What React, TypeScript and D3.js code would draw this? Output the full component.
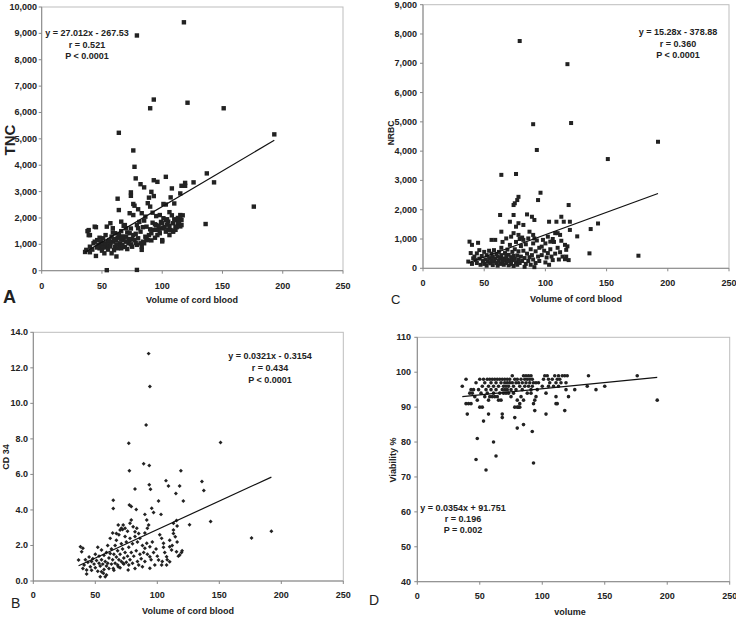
import React from "react";
import * as d3 from "d3";

type Pt = [number, number];

const NARROW = "'Liberation Sans Narrow', 'Arial Narrow', 'Liberation Sans', Arial, sans-serif";
const SANS = "'Liberation Sans', Arial, sans-serif";

// ---------- data (volume, value) ----------
const tncData: Pt[] = [
  [118,9420],[79,8920],[93,6490],[90,6160],[121,6370],[151,6160],[64,5230],[193,5170],[76,4560],[77,3940],[78,3500],[176,2430],[136,1770],[137,3690],[143,3350],[126,3350],[119,3330],[119,3220],[103,3560],[93,3430],[96,3370],[54,20],[79,30],[63,2730],[64,2300],[74,2970],[74,2840],[82,3280],[85,3160],[91,2990],[93,2830],[89,2770],[108,3120],[115,2930],[116,3220],[107,2780],[110,2550],[103,2510],[106,2220],[115,2110],[117,2100],[116,1920],[116,1730],[115,1680],[100,1110],[98,1600],[101,1620],[107,1540],[109,1500],[103,1920],[105,1860],[92,1820],[94,1760],[85,1040],[83,910],[87,1170],[45,1650],[38,1500],[39,1350],[36,710],[40,700],[45,560],
  [77,2465],[76,2530],[80,2330],[88,2560],[90,2430],[101,2530],[73,2180],[76,2110],[83,2180],[86,2050],[92,2200],[95,2070],[98,2110],[101,1990],[104,1950],[109,1800],[112,1920],[115,1950],[113,1800],[57,1800],[54,1670],[59,1610],[66,1860],[69,1730],[70,1610],[79,1730],[80,1610],[82,1480],[87,1670],[90,1570],[91,1420],[95,1730],[97,1540],[98,1420],[101,1610],[103,1480],[105,1540],[106,1350],[109,1480],[111,1670],[100,1160],[39,1540],[40,1350],[44,1670],[37,790],[40,910],[43,1040],[46,1160],[47,980],[48,850],[51,1230],[52,1040],[54,890],[55,1100],[58,1290],[59,1100],[61,910],[62,1160],[64,1350],[65,1040],[66,850],[68,1160],[70,1290],[72,1040],[73,1160],[75,910],[76,1350],[77,1160],[79,980],[80,1230],[82,1040],[83,790],[84,1100],[86,1290],[88,1160],[58,660],[52,660],[62,540],[50,950],[53,1000],[56,950],[57,1050],[60,1200],[61,1420],[63,1250],[66,1500],[67,1300],[68,1700],[71,1450],[72,1200],[74,1600],[78,1400],[81,1850],[84,1650],[85,1900],[89,1350],[93,1550],[94,1250],[96,1350],[99,1850],[102,1650],[104,1750],[108,2100],[110,1950],[112,1650],[114,1850],[49,1100],[51,880],[55,800],[57,920],[60,780],[63,850],[65,960],[69,900],[71,820],[74,1000],[78,1050],[42,800],[44,1100],[46,880],[48,1250],[50,760],[53,1350],[56,1150],[59,1450],[62,1000],[66,1200],[70,1100],[75,1200],[67,980],[73,1420],[87,1250],[91,1150],[95,1550],[97,1700],[100,1800],[113,2000],[111,1550],[106,1700]
];

const nrbcData: Pt[] = [
  [79,7760],[118,6970],[90,4920],[121,4960],[93,4040],[192,4320],[151,3730],[64,3190],[76,3220],[96,2580],[78,2440],[77,2330],[75,2220],[74,2160],[94,2330],[119,2160],[63,1820],[74,1820],[85,1840],[89,1760],[91,1650],[71,1590],[78,1540],[82,1480],[103,1590],[109,1590],[113,1760],[115,1590],[120,1590],[126,1090],[137,1340],[143,1530],[136,510],[176,430],[64,1250],[74,1200],[76,1420],[87,1250],[90,1140],[91,1020],[102,1080],[104,910],[108,1200],[112,1140],[113,940],[98,970],[97,740],[120,1310],[116,800],[117,630],[117,400],[116,310],[38,910],[40,800],[45,870],[37,230],[41,340],[44,510],[46,620],[56,970],[59,970],[68,1020],[72,1080],[78,1140],[82,970],[83,50],[91,40],[106,280],[101,370],
  [39,520],[40,150],[42,400],[43,280],[44,180],[46,330],[47,120],[48,420],[49,250],[50,560],[50,150],[51,300],[52,450],[52,90],[53,220],[54,600],[54,350],[55,170],[56,280],[56,500],[57,110],[57,390],[58,620],[58,240],[59,330],[60,180],[60,480],[61,90],[61,400],[62,260],[62,560],[63,150],[63,350],[64,700],[64,450],[65,220],[65,900],[66,330],[66,120],[67,520],[67,280],[68,400],[68,180],[69,640],[69,300],[70,100],[70,460],[71,250],[71,800],[72,380],[72,150],[73,560],[73,280],[74,420],[74,80],[75,650],[75,320],[76,200],[76,900],[77,440],[77,120],[78,580],[78,300],[79,1000],[79,180],[80,760],[80,400],[81,250],[81,1050],[82,600],[83,350],[84,150],[84,820],[85,500],[86,250],[86,1020],[87,380],[88,120],[88,650],[89,450],[90,300],[90,850],[92,580],[92,180],[93,950],[94,400],[95,250],[95,700],[97,450],[99,600],[100,200],[100,850],[102,520],[103,120],[104,650],[105,400],[107,900],[108,500],[110,700],[111,300],[112,550],[114,400],[118,750],[119,280],[110,1200],[106,1000]
];

const cd34Data: Pt[] = [
  [93,12.8],[94,10.95],[91,8.78],[77,7.75],[151,7.8],[89,6.6],[93.5,6.5],[77.5,6.2],[119,6.2],[107,5.65],[136,5.6],[137.5,5.1],[109,5.35],[93.5,5.42],[94.5,5.16],[118,5.35],[115,4.92],[82,5.18],[101,4.5],[121,4.5],[64.5,4.55],[64.5,4.08],[77.5,4.28],[79,4.2],[83,4.02],[95.5,4.09],[97,3.85],[90,3.75],[103,3.75],[143,3.35],[126,3.17],[176,2.42],[192,2.8],[94,1.37],[94,0.72],[115.5,3.4],[113,2.87],
  [79,3.43],[80.5,3.06],[78,3.25],[72.5,3.15],[71,2.97],[74,2.97],[68.5,3.15],[70,2.87],[67,2.68],[83.5,2.97],[85,2.68],[82,2.77],[91.5,3.43],[93,3.15],[92,2.97],[113,3.25],[116,3.1],[113,2.68],[114.5,2.49],[110,2.3],[103.5,2.4],[105,2.12],[91.5,2.12],[90,1.84],[94,1.93],[110,1.93],[111.5,1.74],[115.5,1.65],[118,1.46],[119.5,1.6],[107.5,1.37],[101,1.18],[103.5,0.9],[110,1.09],[107.5,0.9],[82,0.71],[76.5,0.62],[72.5,1.0],[68.5,0.8],[64.5,0.71],[55,0.52],[56.5,0.43],[54,0.24],[58,0.24],[59,0.34],[40,0.71],[43,0.62],[36.5,1.18],[38,1.93],[39,1.65],[40,1.84],
  [41,0.9],[42,1.2],[43,0.4],[44,1.05],[45,1.35],[46,0.8],[47,1.1],[47,0.6],[48,1.25],[49,0.95],[50,1.5],[50,0.75],[51,1.15],[52,1.9],[52,0.55],[53,1.0],[53,1.4],[54,0.85],[55,1.2],[55,1.75],[56,0.95],[57,1.45],[57,0.65],[58,1.1],[59,1.6],[59,0.85],[60,2.0],[60,1.0],[61,1.3],[61,0.7],[62,1.55],[62,2.4],[63,0.95],[63,1.8],[64,1.2],[64,2.7],[65,1.5],[65,0.6],[66,2.0],[66,1.0],[67,1.35],[67,2.3],[68,0.9],[68,1.7],[69,2.6],[69,1.2],[70,1.5],[70,0.75],[71,2.1],[71,1.1],[72,1.8],[72,2.9],[73,1.3],[73,0.95],[74,2.5],[74,1.6],[75,1.05],[75,2.2],[76,1.4],[76,2.8],[77,0.9],[77,1.9],[78,2.4],[78,1.2],[79,1.6],[80,2.1],[80,1.0],[81,1.4],[82,2.5],[83,1.7],[84,1.1],[84,2.2],[85,0.9],[86,1.5],[86,2.4],[87,1.25],[88,2.0],[88,0.8],[89,1.6],[90,2.7],[90,1.1],[92,1.5],[95,1.2],[96,2.2],[97,1.6],[98,0.9],[99,1.8],[100,1.4],[102,2.6],[104,1.1],[105,1.9],[106,1.6],[108,1.2],[112,2.0],[116,2.2],[117,1.4],[120,1.7]
];

const viabilityData: Pt[] = [
  [192,92],[176,99],[93,74],[55,72],[47,75],[63,76],[61,80],[48,81],[92,83],[80,84],[85,85],[78,87],[53,86],[68,87],[68,88],[57,88],[40,88],[103,88],[118,89],[94,89],[143,95],[150,96],[136,96],[137,99],[126,95],[119,95],[121,93],[111,93],[111,91],[112,91],[103,94],[36,96],[39,98],[39,91],[41,91],[43,91],[48,92],[45,95],
  [42,94],[43,95],[44,94],[46,93],[47,97],[49,95],[50,98],[50,90],[51,94],[52,96],[52,90],[53,98],[54,97],[54,93],[55,95],[56,98],[56,94],[57,96],[57,92],[58,98],[58,93],[59,97],[59,95],[60,98],[60,93],[61,96],[61,94],[62,98],[62,93],[63,97],[63,95],[64,98],[64,93],[65,96],[65,92],[66,98],[66,94],[67,97],[67,92],[68,98],[68,95],[69,96],[69,94],[70,98],[70,97],[70,95],[71,96],[71,94],[72,98],[72,97],[72,95],[73,96],[73,94],[74,98],[74,97],[75,95],[75,93],[76,99],[76,97],[77,96],[77,94],[78,98],[78,90],[79,97],[79,95],[80,98],[80,92],[81,97],[81,90],[82,96],[82,91],[83,98],[83,93],[84,97],[84,95],[85,99],[85,92],[86,98],[86,96],[87,99],[87,97],[88,98],[88,94],[89,99],[89,96],[90,98],[90,97],[91,99],[91,95],[92,98],[92,96],[93,97],[94,92],[95,97],[95,93],[96,95],[97,97],[100,96],[101,98],[102,99],[104,99],[105,98],[106,97],[108,98],[109,96],[110,99],[111,97],[112,98],[113,96],[114,98],[115,97],[116,99],[118,99],[119,97],[120,99],[80,90],[82,90],[91,94],[93,91],[105,96],[113,99]
];

const xTickValues = [0, 50, 100, 150, 200, 250];
const tncTicks = [0, 1000, 2000, 3000, 4000, 5000, 6000, 7000, 8000, 9000, 10000];
const nrbcTicks = [0, 1000, 2000, 3000, 4000, 5000, 6000, 7000, 8000, 9000];
const cd34Ticks = [0, 2, 4, 6, 8, 10, 12, 14];
const viabilityTicks = [40, 50, 60, 70, 80, 90, 100, 110];

const tncEq = ["y = 27.012x - 267.53", "r = 0.521", "P < 0.0001"];
const nrbcEq = ["y = 15.28x - 378.88", "r = 0.360", "P < 0.0001"];
const cd34Eq = ["y = 0.0321x - 0.3154", "r = 0.434", "P < 0.0001"];
const viabilityEq = ["y = 0.0354x + 91.751", "r = 0.196", "P = 0.002"];

const tncFit = [27.012, -267.53];
const nrbcFit = [15.28, -378.88];
const cd34Fit = [0.0321, -0.3154];
const viabilityFit = [0.0354, 91.751];

// ---------- layout ----------
type Cfg = {
  data: Pt[];
  fit: number[];
  eq: string[];
  yTicks: number[];
  yFmt: (v: number) => string;
  left: number; right: number; top: number; bottom: number;
  marker: "square" | "diamond" | "circle";
  msize: number;
  yTitle: { text: string; x: number; y: number; size: number; family: string };
  xTitle: { text: string; x: number; y: number };
  xTickY: number;
  yTickX: number;
  letter: { text: string; x: number; y: number; size: number; weight: string };
  eqPos: { x: number; y: number; dy: number };
};

const INK = "#222";

function Panel({ c }: { c: Cfg }) {
  const x = d3.scaleLinear().domain([0, 250]).range([c.left, c.right]);
  const yDom = d3.extent(c.yTicks) as [number, number];
  const y = d3.scaleLinear().domain(yDom).range([c.bottom, c.top]);
  const [xmin, xmax] = d3.extent(c.data, (d) => d[0]) as [number, number];
  const line = d3.line<number>().x((v) => x(v)).y((v) => y(c.fit[0] * v + c.fit[1]));
  const diamond = d3.symbol().type(d3.symbolDiamond2).size(c.msize * c.msize * 0.6)();
  return (
    <g>
      <rect x={c.left} y={c.top} width={c.right - c.left} height={c.bottom - c.top} fill="none" stroke="#bdbdbd" strokeWidth={1} />
      <line x1={c.left} x2={c.left} y1={c.top} y2={c.bottom} stroke="#888" strokeWidth={1} />
      <line x1={c.left} x2={c.right} y1={c.bottom} y2={c.bottom} stroke="#888" strokeWidth={1} />
      {c.yTicks.map((t) => (
        <g key={"y" + t}>
          <line x1={c.left - 3} x2={c.left} y1={y(t)} y2={y(t)} stroke="#888" />
          <text x={c.yTickX} y={y(t) + 3} textAnchor="end" fontFamily={NARROW} fontWeight="bold" fontSize={9} fill={INK}>
            {c.yFmt(t)}
          </text>
        </g>
      ))}
      {xTickValues.map((t) => (
        <g key={"x" + t}>
          <line x1={x(t)} x2={x(t)} y1={c.bottom} y2={c.bottom + 3} stroke="#888" />
          <text x={x(t)} y={c.xTickY} textAnchor="middle" fontFamily={NARROW} fontWeight="bold" fontSize={9} fill={INK}>
            {t}
          </text>
        </g>
      ))}
      {c.data.map((d, i) => {
        const px = x(d[0]);
        const py = y(d[1]);
        if (c.marker === "square")
          return <rect key={i} x={px - c.msize / 2} y={py - c.msize / 2} width={c.msize} height={c.msize} fill={INK} />;
        if (c.marker === "diamond")
          return <path key={i} d={diamond || ""} transform={`translate(${px},${py})`} fill={INK} />;
        return <circle key={i} cx={px} cy={py} r={c.msize / 2} fill={INK} />;
      })}
      <path d={line([xmin, xmax]) || ""} fill="none" stroke="#111" strokeWidth={1.2} />
      {c.eq.map((s, i) => (
        <text key={"e" + i} x={c.eqPos.x} y={c.eqPos.y + i * c.eqPos.dy} textAnchor="middle" fontFamily={NARROW} fontWeight="bold" fontSize={9} fill={INK}>
          {s}
        </text>
      ))}
      <text x={c.xTitle.x} y={c.xTitle.y} textAnchor="middle" fontFamily={NARROW} fontWeight="bold" fontSize={9} fill={INK}>
        {c.xTitle.text}
      </text>
      <text
        transform={`translate(${c.yTitle.x},${c.yTitle.y}) rotate(-90)`}
        textAnchor="middle"
        dominantBaseline="central"
        fontFamily={c.yTitle.family}
        fontWeight="bold"
        fontSize={c.yTitle.size}
        fill={INK}
      >
        {c.yTitle.text}
      </text>
      <text x={c.letter.x} y={c.letter.y} fontFamily={SANS} fontWeight={c.letter.weight} fontSize={c.letter.size} fill={INK}>
        {c.letter.text}
      </text>
    </g>
  );
}

const fmtComma = d3.format(",");
const fmt1 = d3.format(".1f");
const fmtInt = d3.format("d");

const panels: Cfg[] = [
  {
    data: tncData, fit: tncFit, eq: tncEq, yTicks: tncTicks, yFmt: fmtComma,
    left: 41.7, right: 343, top: 7, bottom: 270.7, marker: "square", msize: 4.4,
    yTitle: { text: "TNC", x: 9, y: 140, size: 15, family: SANS },
    xTitle: { text: "Volume of cord blood", x: 192, y: 303 },
    xTickY: 289, yTickX: 37,
    letter: { text: "A", x: 3, y: 303, size: 18, weight: "bold" },
    eqPos: { x: 87, y: 36, dy: 11.7 },
  },
  {
    data: nrbcData, fit: nrbcFit, eq: nrbcEq, yTicks: nrbcTicks, yFmt: fmtComma,
    left: 423, right: 729, top: 4.7, bottom: 268.3, marker: "square", msize: 4,
    yTitle: { text: "NRBC", x: 391, y: 133, size: 8.5, family: NARROW },
    xTitle: { text: "Volume of cord blood", x: 576, y: 302 },
    xTickY: 286, yTickX: 417,
    letter: { text: "C", x: 391, y: 304, size: 13, weight: "normal" },
    eqPos: { x: 678, y: 35, dy: 11.5 },
  },
  {
    data: cd34Data, fit: cd34Fit, eq: cd34Eq, yTicks: cd34Ticks, yFmt: fmt1,
    left: 33.3, right: 343.3, top: 332.3, bottom: 581, marker: "diamond", msize: 4.1,
    yTitle: { text: "CD 34", x: 6, y: 457, size: 9, family: SANS },
    xTitle: { text: "Volume of cord blood", x: 188, y: 614 },
    xTickY: 598, yTickX: 28,
    letter: { text: "B", x: 11, y: 608, size: 14, weight: "normal" },
    eqPos: { x: 270, y: 359, dy: 12 },
  },
  {
    data: viabilityData, fit: viabilityFit, eq: viabilityEq, yTicks: viabilityTicks, yFmt: fmtInt,
    left: 417.3, right: 729.7, top: 337.3, bottom: 581.7, marker: "circle", msize: 3.6,
    yTitle: { text: "Viability %", x: 393, y: 460, size: 9, family: SANS },
    xTitle: { text: "volume", x: 570, y: 615 },
    xTickY: 599, yTickX: 411,
    letter: { text: "D", x: 369, y: 605, size: 14, weight: "normal" },
    eqPos: { x: 463, y: 511, dy: 11 },
  },
];

export default function App() {
  return (
    <svg
      width={736}
      height={617}
      viewBox="0 0 736 617"
      style={{ position: "absolute", left: 0, top: 0, display: "block", background: "#fff" }}
    >
      <rect width={736} height={617} fill="#fff" />
      {panels.map((c, i) => (
        <Panel key={i} c={c} />
      ))}
    </svg>
  );
}
